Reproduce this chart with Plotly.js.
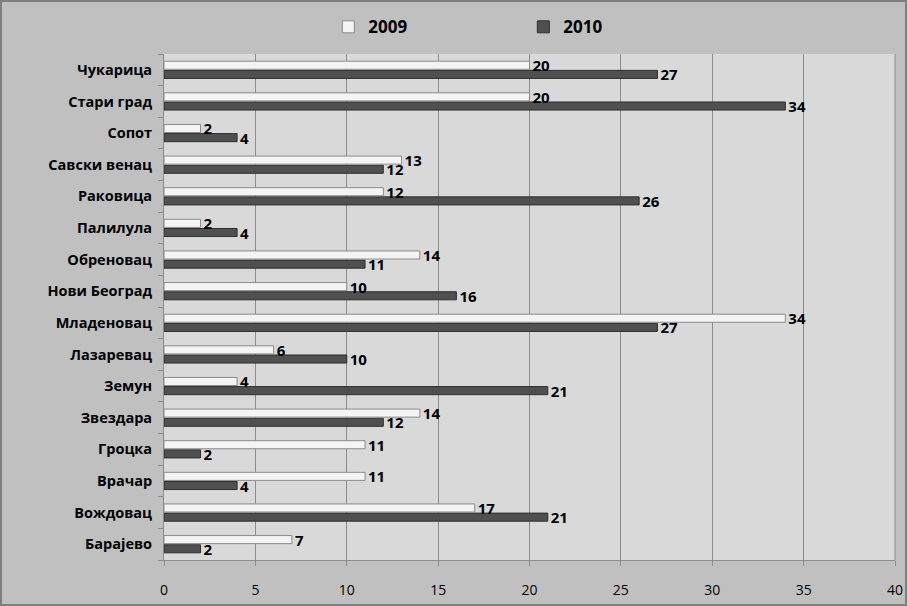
<!DOCTYPE html>
<html>
<head>
<meta charset="utf-8">
<script src="https://cdn.plot.ly/plotly-3.0.1.min.js"></script>
<style>
html,body{margin:0;padding:0;background:#c0c0c0;}
#wrap{position:relative;width:907px;height:606px;}
#chart{width:907px;height:606px;}
#frame{position:absolute;left:0;top:0;width:903px;height:602px;border:2px solid #7f7f7f;pointer-events:none;}
</style>
</head>
<body>
<div id="wrap"><div id="chart"></div><div id="frame"></div></div>
<script>
const categories = ["Барајево","Вождовац","Врачар","Гроцка","Звездара","Земун","Лазаревац","Младеновац","Нови Београд","Обреновац","Палилула","Раковица","Савски венац","Сопот","Стари град","Чукарица"];
const values2009 = [7,17,11,11,14,4,6,34,10,14,2,12,13,2,20,20];
const values2010 = [2,21,4,2,12,21,10,27,16,11,4,26,12,4,34,27];
const xTicks = [0,5,10,15,20,25,30,35,40];

const labelFont = {family:"Open Sans, sans-serif", size:15, color:"#000", weight:"bold"};

const t2010 = {
  type:"bar", orientation:"h", name:"2010", y:categories, x:values2010,
  marker:{color:"#505050", line:{color:"#2e2e2e", width:1}},
  text:values2010.map(String), textposition:"outside", textfont:labelFont,
  constraintext:"none", cliponaxis:false, legendrank:2, hoverinfo:"x+y"
};
const t2009 = {
  type:"bar", orientation:"h", name:"2009", y:categories, x:values2009,
  marker:{color:"#f4f4f4", line:{color:"#8a8a8a", width:1}},
  text:values2009.map(String), textposition:"outside", textfont:labelFont,
  constraintext:"none", cliponaxis:false, legendrank:1, hoverinfo:"x+y"
};

const layout = {
  width:907, height:606,
  paper_bgcolor:"#c0c0c0", plot_bgcolor:"#d9d9d9",
  margin:{l:164, r:12, t:54, b:46, autoexpand:false},
  barmode:"group", bargap:0.42, bargroupgap:0.12,
  showlegend:true,
  legend:{orientation:"h", xref:"container", yref:"container",
    x:0.362, xanchor:"left", y:0.955, yanchor:"middle",
    entrywidth:150, entrywidthmode:"pixels", itemwidth:30,
    font:{family:"Open Sans, sans-serif", size:17, color:"#000", weight:"bold"},
    bgcolor:"rgba(0,0,0,0)"},
  xaxis:{range:[0,40], tickvals:xTicks, ticktext:xTicks.map(String),
    showgrid:true, gridcolor:"#8c8c8c", gridwidth:1,
    zeroline:false, showline:true, linecolor:"#8c8c8c", linewidth:1,
    ticks:"outside", ticklen:5, tickcolor:"#8c8c8c", ticklabelstandoff:12,
    tickfont:{family:"Open Sans, sans-serif", size:14, color:"#000"},
    mirror:false, fixedrange:true},
  yaxis:{type:"category", categoryorder:"array", categoryarray:categories,
    showgrid:false, zeroline:false, showline:true, linecolor:"#8c8c8c", linewidth:1,
    ticks:"outside", ticklen:5, tickcolor:"#8c8c8c", tickson:"boundaries",
    tickfont:{family:"Open Sans, sans-serif", size:14.5, color:"#000", weight:"bold"},
    ticklabelstandoff:8, fixedrange:true},
  shapes:[{type:"line", xref:"paper", yref:"paper", x0:1, x1:1, y0:0, y1:1,
    line:{color:"#8c8c8c", width:1}}]
};

Plotly.newPlot("chart", [t2010, t2009], layout, {displayModeBar:false, staticPlot:true});
</script>
</body>
</html>
